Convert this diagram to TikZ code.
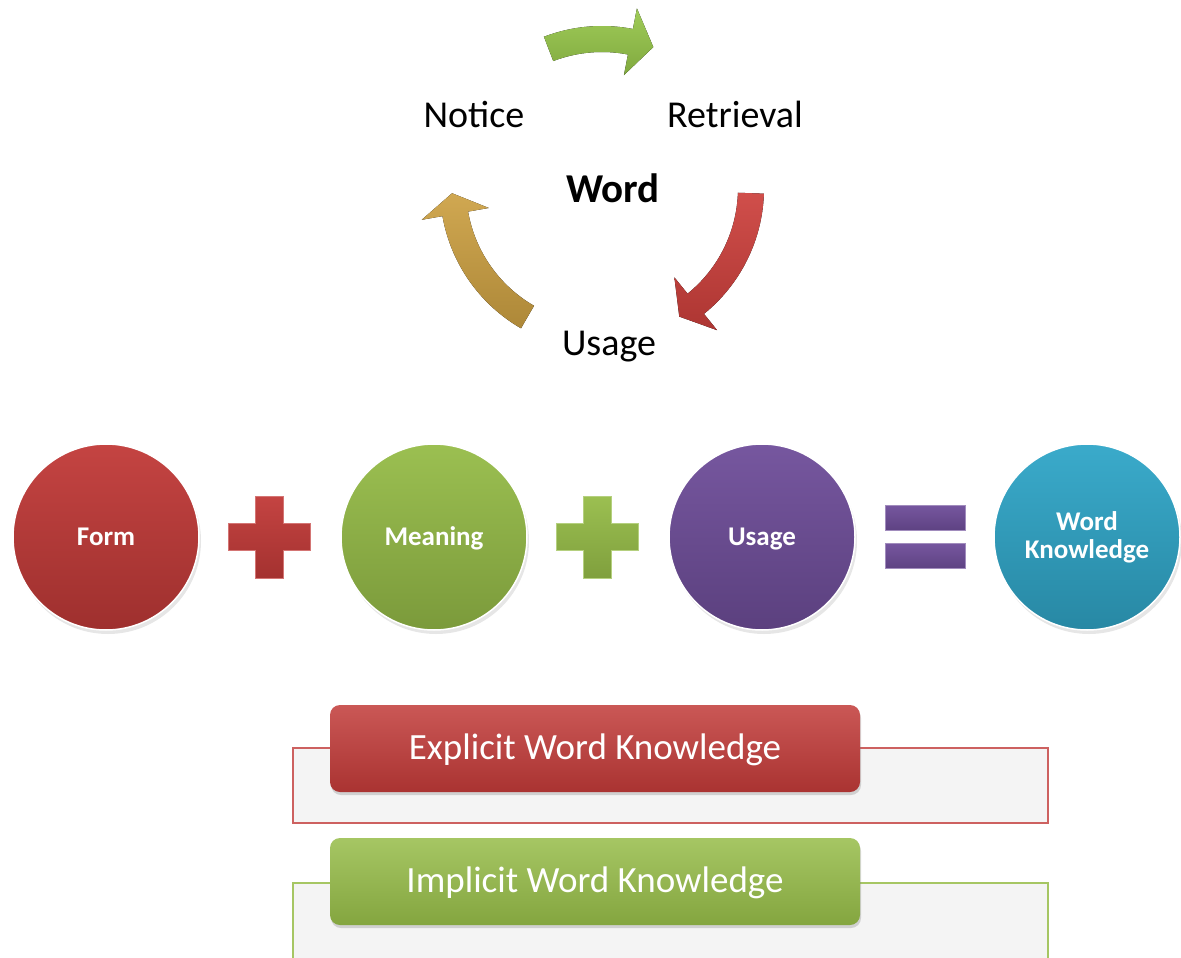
\documentclass[tikz,border=0pt]{standalone}
\usepackage{fontspec}
\setmainfont{Carlito}
\usetikzlibrary{calc,shadows}

\definecolor{formred}{HTML}{C13A38}
\definecolor{meangreen}{HTML}{96BC48}
\definecolor{usepurple}{HTML}{6F4E9A}
\definecolor{knowteal}{HTML}{30A6C8}
\definecolor{arrgreen}{HTML}{97C74A}
\definecolor{arrred}{HTML}{CC3F3B}
\definecolor{arrgold}{HTML}{CCA042}
\definecolor{panelgray}{HTML}{F4F4F4}

\tikzset{
	cyclelabel/.style={anchor=base, inner sep=0pt, font=\fontsize{38}{44}\selectfont},
	ball/.style={circle, minimum size=186pt, inner sep=0pt, draw=white, line width=1.5pt,
		text=white, align=center, font=\fontsize{27}{28}\selectfont\bfseries,
		drop shadow={shadow xshift=2pt, shadow yshift=-4pt, opacity=0.2}},
	oneline/.style={text height=16pt, text depth=0pt},
	tabbox/.style={rounded corners=10pt, minimum width=530pt, minimum height=87pt, inner sep=0pt,
		text=white, font=\fontsize{37}{42}\selectfont, text height=22pt, text depth=0pt,
		drop shadow={shadow xshift=1pt, shadow yshift=-3pt, opacity=0.3}},
	panel/.style={fill=panelgray, line width=1.5pt}
}

\begin{document}
\begin{tikzpicture}[x=1pt,y=1pt]
	\useasboundingbox (0,0) rectangle (1181,-958);
	
	% Cycle
	\coordinate (hub) at (602,-188);
	\foreach \col/\ta/\ba/\ti in {arrgreen/111/79/70, arrred/-2/-51/-59, arrgold/240/190/182}{
		\fill[top color=\col!92!white, bottom color=\col!85!black]
			($(hub)+(\ta:162)$) arc[start angle=\ta, end angle=\ba, radius=162pt]
			-- ($(hub)+(\ba:183)$) -- ($(hub)+(\ti:150)$) -- ($(hub)+(\ba:115)$)
			-- ($(hub)+(\ba:136)$) arc[start angle=\ba, end angle=\ta, radius=136pt] -- cycle;
	}
	\path (474,-128) node [cyclelabel] (notice) {Notice};
	\path (735,-128) node [cyclelabel] (retrieval) {Retrieval};
	\path (613,-202) node [cyclelabel, font=\fontsize{41}{44}\selectfont\bfseries] (word) {Word};
	\path (609,-355) node [cyclelabel] (usage) {Usage};
	
	% Equation
	\path (106,-537) node [ball, oneline, top color=formred!95!white, bottom color=formred!82!black] (form) {Form};
	\path (434,-537) node [ball, oneline, top color=meangreen!95!white, bottom color=meangreen!82!black] (meaning) {Meaning};
	\path (762,-537) node [ball, oneline, top color=usepurple!95!white, bottom color=usepurple!82!black] (use) {Usage};
	\path (1087,-537) node [ball, top color=knowteal!95!white, bottom color=knowteal!82!black] (knowledge) {Word\\Knowledge};
	\foreach \x/\col in {269/formred, 597/meangreen}{
		\filldraw[top color=\col!95!white, bottom color=\col!85!black, draw=\col!70!white, line width=1pt]
			({\x-14},-496) -- ({\x+14},-496) -- ({\x+14},-523) -- ({\x+41},-523) -- ({\x+41},-550)
			-- ({\x+14},-550) -- ({\x+14},-578) -- ({\x-14},-578) -- ({\x-14},-550) -- ({\x-41},-550)
			-- ({\x-41},-523) -- ({\x-14},-523) -- cycle;
	}
	\foreach \y in {505,543}{
		\filldraw[top color=usepurple!95!white, bottom color=usepurple!85!black, draw=usepurple!65!white, line width=1pt]
			(885,-\y) rectangle (965,{-\y-25});
	}
	
	% Knowledge types
	\filldraw[panel, draw=formred!80!white] (293,-748) rectangle (1048,-823);
	\path (595,-748.5) node [tabbox, top color=formred!85!white, bottom color=formred!88!black] (explicit) {Explicit Word Knowledge};
	\fill[panelgray] (293,-883) rectangle (1048,-958);
	\draw[meangreen!85!white, line width=1.5pt] (293,-958) |- (1048,-883) -- (1048,-958);
	\path (595,-881.5) node [tabbox, top color=meangreen!85!white, bottom color=meangreen!88!black] (implicit) {Implicit Word Knowledge};
\end{tikzpicture}
\end{document}
